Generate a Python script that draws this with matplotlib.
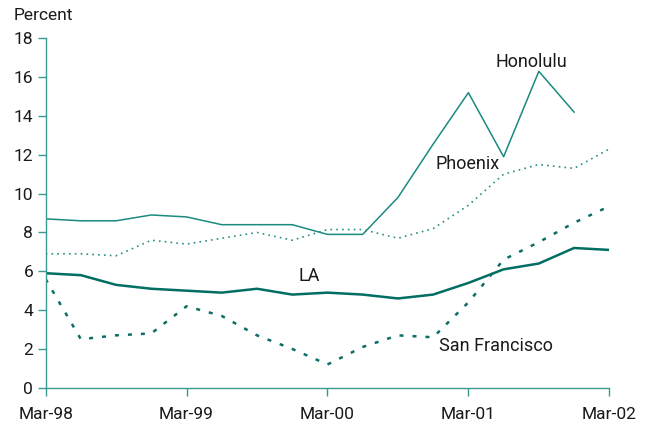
import matplotlib
matplotlib.use("Agg")
import matplotlib.pyplot as plt

plt.rcParams['font.family'] = ['Roboto', 'DejaVu Sans']

quarters = list(range(17))
xtick_pos = [0, 4, 8, 12, 16]
xtick_labels = ["Mar-98", "Mar-99", "Mar-00", "Mar-01", "Mar-02"]

honolulu = [8.7, 8.6, 8.6, 8.9, 8.8, 8.4, 8.4, 8.4, 7.9, 7.9, 9.8, 12.55, 15.2, 11.9, 16.3, 14.2]
phoenix = [6.9, 6.9, 6.8, 7.6, 7.4, 7.7, 8.0, 7.6, 8.15, 8.15, 7.7, 8.2, 9.4, 11.0, 11.5, 11.3, 12.3]
la = [5.9, 5.8, 5.3, 5.1, 5.0, 4.9, 5.1, 4.8, 4.9, 4.8, 4.6, 4.8, 5.4, 6.1, 6.4, 7.2, 7.1]
sf = [5.6, 2.5, 2.7, 2.8, 4.2, 3.7, 2.7, 2.0, 1.2, 2.1, 2.7, 2.6, 4.4, 6.6, 7.5, 8.5, 9.35]

fig = plt.figure(figsize=(6.52, 4.28), dpi=100)
ax = fig.add_axes([0.070, 0.094, 0.8645, 0.8165])

ax.plot(quarters[:len(honolulu)], honolulu, color='#1b8a80', lw=1.1)
ax.plot(quarters, phoenix, color='#2a8f86', lw=1.2, ls=(0, (1, 2.5)))
ax.plot(quarters, la, color='#006e62', lw=1.8)
ax.plot(quarters, sf, color='#0c6e66', lw=1.8, ls=(0, (1.6, 3.6)))

ax.set_xlim(0, 16)
ax.set_ylim(0, 18)
ax.set_xticks(xtick_pos)
ax.set_xticklabels(xtick_labels)
ax.set_yticks(range(0, 19, 2))
for s in ['top', 'right']:
    ax.spines[s].set_visible(False)
for s in ['left', 'bottom']:
    ax.spines[s].set_color('#3a9a90')
    ax.spines[s].set_linewidth(1.0)
ax.tick_params(axis='both', colors='#3a9a90', labelcolor='#1a1a1a', labelsize=12.5, length=6, width=1.0)
ax.tick_params(axis='x', pad=8)
ax.tick_params(axis='y', pad=3)

txt = dict(fontsize=13, color='#1a1a1a')
ax.text(13.8, 16.8, "Honolulu", ha='center', va='center', **txt)
ax.text(11.97, 11.53, "Phoenix", ha='center', va='center', **txt)
ax.text(7.47, 5.76, "LA", ha='center', va='center', **txt)
ax.text(12.77, 2.16, "San Francisco", ha='center', va='center', **txt)
fig.text(14 / 652, 1 - 15 / 428, "Percent", ha='left', va='center', fontsize=12.5, color='#1a1a1a')

fig.savefig("out.png", dpi=100)
